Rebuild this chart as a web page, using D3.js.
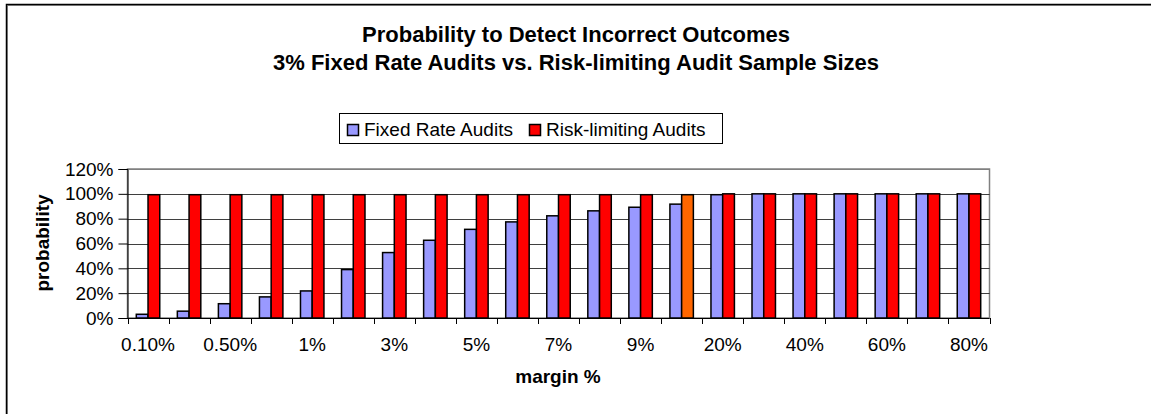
<!DOCTYPE html>
<html>
<head>
<meta charset="utf-8">
<script src="https://cdnjs.cloudflare.com/ajax/libs/d3/7.8.5/d3.min.js"></script>
<style>
  body { margin: 0; background: #fff; }
  svg { display: block; font-family: "Liberation Sans", Arial, sans-serif; }
</style>
</head>
<body>
<svg id="chart" width="1151" height="414"></svg>
<script>
// margins (hidden labels every other category, as in the original)
const margins = ["0.10%", "0.25%", "0.50%", "0.75%", "1%", "2%", "3%", "4%", "5%", "6%", "7%",
                 "8%", "9%", "10%", "20%", "30%", "40%", "50%", "60%", "70%", "80%"]
const fixedRate = [3, 5.5, 11.5, 17, 21.8, 39, 52.7, 62.6, 71.4, 77.4, 82.3,
                   86.3, 89.2, 91.7, 99.3, 100, 100, 100, 100, 100, 100]
const riskLimiting = [99.3, 99.3, 99.3, 99.3, 99.3, 99.3, 99.3, 99.3, 99.3, 99.3, 99.3,
                      99.3, 99.3, 99.3, 100, 100, 100, 100, 100, 100, 100]
const yTicks = [0, 20, 40, 60, 80, 100, 120]
const seriesNames = ["Fixed Rate Audits", "Risk-limiting Audits"]
const seriesColors = ["#9999FF", "#FF0000"]
const highlightIdx = 13  // 10% bar drawn orange

const svg = d3.select("#chart")

// outer frame with shadow
svg.append("path").attr("d", "M7.5,420 V5.5 H1160").attr("fill", "none").attr("stroke", "#999").attr("stroke-width", 1)
svg.append("path").attr("d", "M6.5,420 V4.5 H1160").attr("fill", "none").attr("stroke", "#000").attr("stroke-width", 1.5)

// titles
svg.append("text").attr("x", 576).attr("y", 42).attr("text-anchor", "middle")
   .attr("font-size", 22).attr("font-weight", "bold").text("Probability to Detect Incorrect Outcomes")
svg.append("text").attr("x", 576).attr("y", 70).attr("text-anchor", "middle")
   .attr("font-size", 22).attr("font-weight", "bold").text("3% Fixed Rate Audits vs. Risk-limiting Audit Sample Sizes")

const plotL = 127.5, plotR = 989.5, plotT = 169, plotB = 318

let x = d3.scaleBand().domain(margins).range([plotL, plotR]).paddingInner(0).paddingOuter(0)
let y = d3.scaleLinear().domain([0, 120]).range([plotB, plotT])

let bw = x.bandwidth() / 3.5
let off = (x.bandwidth() - 2 * bw) / 2

// plot frame
svg.append("rect").attr("x", plotL).attr("y", plotT).attr("width", plotR - plotL).attr("height", plotB - plotT)
   .attr("fill", "#fff").attr("stroke", "#808080").attr("stroke-width", 1.5)

// gridlines
svg.append("g").selectAll("line").data(yTicks.filter(d => d > 0)).join("line")
   .attr("x1", plotL).attr("x2", plotR)
   .attr("y1", d => Math.round(y(d)) + 0.5).attr("y2", d => Math.round(y(d)) + 0.5)
   .attr("stroke", d => d == 120 ? "#808080" : "#000").attr("stroke-width", 1)
   .attr("opacity", d => d == 120 ? 1 : 0.75)

// bars
const bars = svg.append("g")
margins.forEach(function(m, i) {
  bars.append("rect")
      .attr("x", x(m) + off).attr("y", y(fixedRate[i]))
      .attr("width", bw).attr("height", plotB - y(fixedRate[i]))
      .attr("fill", seriesColors[0]).attr("stroke", "#000").attr("stroke-width", 1.5)
  bars.append("rect")
      .attr("x", x(m) + off + bw).attr("y", y(riskLimiting[i]))
      .attr("width", bw).attr("height", plotB - y(riskLimiting[i]))
      .attr("fill", i == highlightIdx ? "#FF6600" : seriesColors[1]).attr("stroke", "#000").attr("stroke-width", 1.5)
})

// y axis
let yAxis = d3.axisLeft(y).tickValues(yTicks).tickFormat(d => d + "%").tickSize(9).tickPadding(5)
let gy = svg.append("g").attr("transform", `translate(${plotL},0)`).call(yAxis)
gy.select(".domain").attr("stroke", "#000")
gy.selectAll("line").attr("stroke", "#000")
gy.selectAll("text").attr("font-size", 19).attr("fill", "#000").attr("font-family", "Liberation Sans, Arial, sans-serif")

// x axis: ticks at category boundaries, labels every other category
let gx = svg.append("g")
gx.append("line").attr("x1", plotL).attr("x2", plotR).attr("y1", plotB + 0.5).attr("y2", plotB + 0.5).attr("stroke", "#000")
gx.selectAll("line.tk").data(margins.concat(["end"])).join("line").attr("class", "tk")
  .attr("x1", (d, i) => Math.round(plotL + i * x.bandwidth()) + 0.5)
  .attr("x2", (d, i) => Math.round(plotL + i * x.bandwidth()) + 0.5)
  .attr("y1", plotB).attr("y2", plotB + 6).attr("stroke", "#000")
gx.selectAll("text").data(margins.filter((d, i) => i % 2 == 0)).join("text")
  .attr("x", d => x(d) + x.bandwidth() / 2).attr("y", 351)
  .attr("text-anchor", "middle").attr("font-size", 19).text(d => d)

// axis titles
svg.append("text").attr("x", 558).attr("y", 383).attr("text-anchor", "middle")
   .attr("font-size", 19).attr("font-weight", "bold").text("margin %")
svg.append("text").attr("transform", "translate(49,243) rotate(-90)").attr("text-anchor", "middle")
   .attr("font-size", 19).attr("font-weight", "bold").text("probability")

// legend
let lg = svg.append("g")
lg.append("rect").attr("x", 339.5).attr("y", 113.5).attr("width", 383).attr("height", 30)
  .attr("fill", "#fff").attr("stroke", "#000").attr("stroke-width", 1)
let lx = [347, 529]
seriesNames.forEach(function(n, i) {
  lg.append("rect").attr("x", lx[i] + 0.5).attr("y", 124.5).attr("width", 11).attr("height", 11)
    .attr("fill", seriesColors[i]).attr("stroke", "#000").attr("stroke-width", 1.5)
  lg.append("text").attr("x", lx[i] + 17).attr("y", 136).attr("font-size", 19).text(n)
})
</script>
</body>
</html>
